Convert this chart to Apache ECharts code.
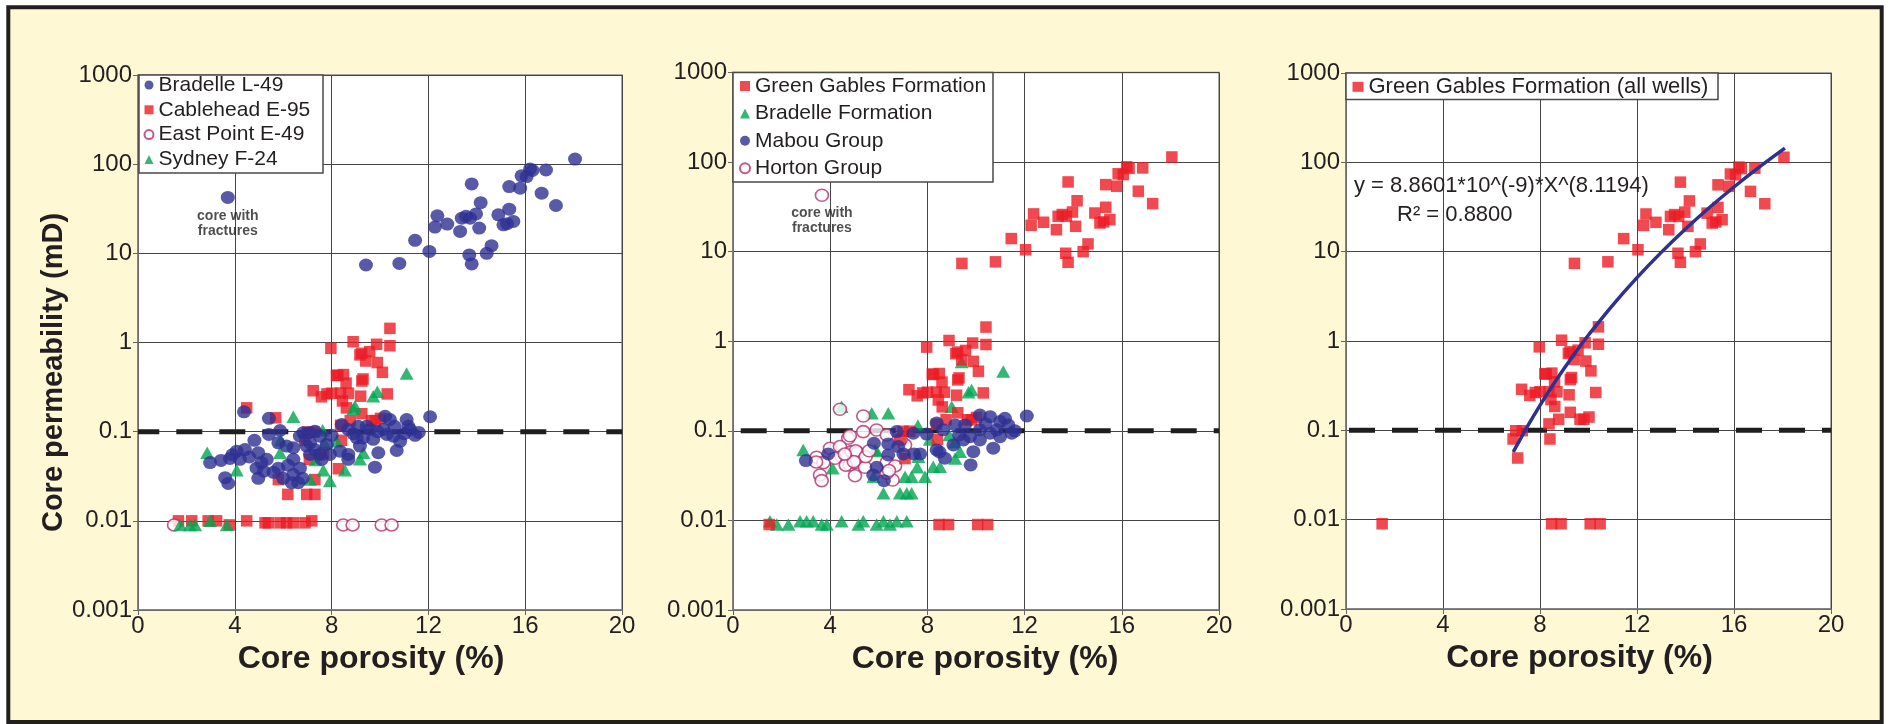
<!DOCTYPE html>
<html><head><meta charset="utf-8">
<script src="https://cdn.jsdelivr.net/npm/echarts@6/dist/echarts.min.js"></script>
<style>html,body{margin:0;padding:0;background:#fff}#c{width:1891px;height:724px}</style>
</head><body><div id="c"></div>
<script>
// ---------------- DATA ----------------
const xAxisMin = 0, xAxisMax = 20, xAxisStep = 4;
const yTickLabels = ['0.001', '0.01', '0.1', '1', '10', '100', '1000'];
const thresholdPerm = 0.1;
const xTitle = 'Core porosity (%)';
const yTitle = 'Core permeability (mD)';
const fractureNote = 'core with\nfractures';

// Green Gables points, high permeability (Bradelle L-49 well)
const ggHigh = [[9.42,7.4],[10.8,7.7],[11.45,14],[12.04,10.5],[12.27,19.7],[12.37,26.4],[12.78,21.3],[13.31,17.6],[13.38,24.8],[13.72,24.8],[13.55,26],[13.79,60],[13.97,27.7],[14.1,19.2],[14.16,37],[13.69,9.6],[13.79,7.6],[14.41,10],[14.61,12.2],[14.89,27],[15.1,20.9],[15.25,21.5],[15.34,31.3],[15.51,22.8],[15.34,56],[15.79,53.8],[15.85,74],[16.06,72.6],[16.2,88.5],[16.3,85],[16.68,47.3],[16.86,86],[17.27,34.4],[18.06,114]];
// Green Gables points, 0.04 - 1.5 mD (Cablehead E-95 well)
const ggMid = [[6.89,0.08],[7.0,0.099],[7.27,0.099],[7.08,0.049],[7.24,0.288],[7.58,0.246],[7.81,0.265],[7.97,0.86],[8.0,0.27],[8.26,0.426],[8.49,0.437],[8.37,0.271],[8.45,0.221],[8.61,0.185],[8.37,0.118],[8.41,0.08],[8.77,0.133],[8.89,1.02],[9.17,0.726],[9.25,0.37],[9.2,0.25],[9.25,0.159],[9.41,0.62],[9.57,0.79],[9.65,0.133],[10.02,0.141],[9.81,0.133],[9.86,0.955],[9.89,0.596],[10.1,0.463],[10.3,0.265],[10.41,1.44],[10.41,0.92],[9.24,0.757],[8.6,0.35],[9.3,0.39],[8.7,0.27],[8.2,0.43]];
// Green Gables points at detection limit (East Point E-49 well)
const ggTrace = [[1.49,0.009],[8.48,0.009],[8.87,0.009],[10.07,0.009],[10.48,0.009]];

// Panel 1 - by well
const bradelleL49Low = [[4.38,0.167],[5.41,0.141],[5.87,0.103],[5.41,0.093],[4.81,0.08],[2.98,0.045],[3.43,0.0476],[3.8,0.05],[4.08,0.0605],[4.42,0.063],[4.21,0.049],[3.6,0.0305],[3.73,0.0263],[4.97,0.058],[5.32,0.049],[4.9,0.039],[4.97,0.03],[5.8,0.075],[6.14,0.069],[6.42,0.066],[5.8,0.039],[6.0,0.03],[6.35,0.0268],[6.62,0.0268],[6.42,0.033],[6.69,0.039],[6.42,0.049],[6.83,0.097],[7.04,0.097],[7.31,0.101],[7.11,0.075],[7.11,0.0556],[7.52,0.0556],[7.93,0.0556],[7.52,0.089],[8.0,0.091],[8.42,0.12],[8.69,0.106],[9.1,0.115],[9.45,0.115],[8.35,0.0605],[8.69,0.0556],[8.69,0.049],[9.17,0.069],[9.72,0.082],[9.93,0.058],[9.79,0.04],[10.21,0.149],[10.41,0.137],[10.14,0.106],[10.55,0.089],[10.83,0.078],[10.69,0.0615],[11.1,0.137],[11.24,0.106],[11.45,0.091],[12.07,0.147],[11.17,0.115],[10.28,0.093],[9.59,0.106],[9.04,0.085],[6.69,0.089],[6.97,0.069],[7.59,0.049],[3.9,0.055],[4.6,0.052],[5.1,0.045],[5.6,0.035],[6.2,0.042],[7.3,0.063],[7.8,0.072],[8.9,0.095],[9.3,0.085],[9.9,0.1],[10.6,0.115],[11.0,0.095],[11.6,0.098],[5.2,0.036],[6.8,0.03]];
const bradelleFracturePt = [3.71, 42.4];
const cableheadOther = [[4.49,0.185],[5.69,0.143],[8.28,0.0384],[7.31,0.029],[6.19,0.0198],[6.97,0.0198],[7.31,0.0198],[7.66,0.058],[5.8,0.029],[7.5,0.055],[1.67,0.01],[2.22,0.01],[2.9,0.01],[3.25,0.01],[3.77,0.009],[4.49,0.01],[5.25,0.0095],[5.39,0.0095],[5.87,0.0095],[6.14,0.0095],[6.42,0.0095],[6.9,0.0095],[7.18,0.01]];
const sydneyF24 = [[2.86,0.058],[4.08,0.037],[6.42,0.147],[5.87,0.058],[7.63,0.104],[7.66,0.037],[7.93,0.028],[7.11,0.029],[8.55,0.037],[9.17,0.049],[9.31,0.058],[9.72,0.25],[9.89,0.28],[11.1,0.45],[8.97,0.193],[7.7,0.075],[7.34,0.048],[8.21,0.078],[8.9,0.18],[5.9,0.08],[1.74,0.009],[2.15,0.009],[2.36,0.009],[2.98,0.01],[3.67,0.009]];

// Panel 2 - by formation
const mabouGroup = [[3.0,0.0465],[3.92,0.0552],[5.8,0.0727],[6.39,0.0715],[6.39,0.0538],[5.91,0.0392],[5.77,0.0322],[6.21,0.0278],[6.74,0.098],[7.01,0.0552],[7.42,0.094],[7.45,0.0552],[7.7,0.0552],[7.97,0.092],[8.38,0.122],[8.38,0.0612],[8.65,0.1025],[8.72,0.0494],[9.07,0.0697],[9.14,0.1165],[9.55,0.1165],[9.75,0.086],[9.89,0.0586],[9.78,0.0416],[10.16,0.15],[10.58,0.144],[10.16,0.1025],[10.58,0.094],[10.71,0.064],[10.99,0.1268],[11.19,0.138],[11.33,0.1165],[11.47,0.094],[10.99,0.086],[12.09,0.1465],[9.48,0.079],[10.16,0.079],[10.85,0.1025],[6.8,0.0667],[8.5,0.058],[9.3,0.09],[10.4,0.12],[11.6,0.1]];
const hortonGroup = [[4.4,0.174],[5.36,0.1465],[5.36,0.098],[5.91,0.102],[4.74,0.0826],[3.99,0.064],[4.4,0.0667],[3.44,0.0507],[3.72,0.0442],[4.47,0.0515],[4.88,0.0586],[5.13,0.0571],[4.81,0.0416],[5.02,0.0442],[5.43,0.0392],[3.58,0.0322],[3.65,0.0278],[5.02,0.0316],[6.33,0.0447],[6.67,0.0406],[6.57,0.0283],[6.33,0.0337],[7.08,0.0697],[6.33,0.09],[4.2,0.0494],[4.81,0.088],[5.05,0.06],[5.46,0.0515],[4.64,0.0414],[4.97,0.0455],[6.42,0.036],[3.42,0.045],[4.6,0.055],[5.6,0.06],[6.9,0.08]];
const hortonFracturePt = [3.66, 42.6];
const bradelleFormation = [[2.89,0.061],[4.47,0.186],[5.71,0.157],[6.39,0.157],[4.1,0.0383],[5.91,0.0597],[6.19,0.0201],[6.87,0.0201],[7.15,0.0201],[7.35,0.0201],[7.08,0.0308],[7.35,0.0308],[7.9,0.0308],[7.58,0.0393],[8.24,0.0398],[8.52,0.0398],[7.63,0.0515],[9.14,0.049],[9.34,0.0586],[9.82,0.286],[9.0,0.186],[5.78,0.0307],[7.61,0.115],[9.12,0.0745],[9.41,0.586],[9.69,0.27],[11.12,0.46],[5.83,0.061],[8.1,0.08],[8.9,0.09],[1.52,0.0098],[1.8,0.009],[2.28,0.009],[2.76,0.0098],[3.03,0.0098],[3.3,0.0098],[3.65,0.009],[3.86,0.009],[4.47,0.0098],[5.16,0.009],[5.36,0.0098],[5.91,0.009],[6.19,0.0098],[6.46,0.009],[6.74,0.0098],[7.15,0.0098]];

// Panel 3 - power-law trend line as drawn on the chart
const trendX = [6.9, 7, 7.5, 8, 8.5, 9, 9.5, 10, 11, 12, 13, 14, 15, 16, 17, 18.1];
const trendY = [0.0573, 0.0644, 0.1128, 0.1905, 0.3117, 0.4958, 0.769, 1.166, 2.528, 5.125, 9.816, 17.92, 31.38, 52.97, 86.68, 144.2];
const trendEquation = 'y = 8.8601*10^(-9)*X^(8.1194)';
const trendR2 = 'R\u00B2 = 0.8800';

// ---------------- CHART ----------------
const FONT = "'Liberation Sans', Arial, Helvetica, sans-serif";
const INK = '#231f20';
const RED = '#ec1c24', BLUE = '#2e3192', GREEN = '#00a651', PINK = '#b4306e';

const gridBoxes = [
  {left: 138, top: 75, width: 484, height: 535},
  {left: 733, top: 72.5, width: 486, height: 537.5},
  {left: 1346, top: 73, width: 485, height: 536}
];
const grid = gridBoxes.map(g => Object.assign({show: true, backgroundColor: '#ffffff', borderColor: '#8c8c8c', borderWidth: 1.5}, g));

const titlePadX = [[0, 18, 0, 0], [0, 0, 0, 18], [0, 18, 0, 0]];
const xAxis = gridBoxes.map((g, i) => ({
  type: 'value', gridIndex: i, min: xAxisMin, max: xAxisMax, interval: xAxisStep,
  axisLine: {show: true, onZero: false, lineStyle: {color: '#7a7a7a', width: 1.5}},
  axisTick: {show: true, length: 5, lineStyle: {color: '#666'}},
  axisLabel: {fontSize: 24, color: INK, fontFamily: FONT, margin: 4},
  splitLine: {show: true, lineStyle: {color: '#454545', width: 1}},
  name: xTitle, nameLocation: 'middle', nameGap: 32,
  nameTextStyle: {fontSize: 32, fontWeight: 'bold', color: INK, fontFamily: FONT, padding: titlePadX[i]}
}));
const yAxis = gridBoxes.map((g, i) => Object.assign({
  type: 'log', logBase: 10, gridIndex: i, min: 0.001, max: 1000, splitNumber: 6,
  axisLine: {show: true, onZero: false, lineStyle: {color: '#7a7a7a', width: 1.5}},
  axisTick: {show: true, length: 5, lineStyle: {color: '#666'}},
  axisLabel: {fontSize: 24, color: INK, fontFamily: FONT, margin: 6,
    formatter: v => yTickLabels[Math.round(Math.log10(v)) + 3]},
  splitLine: {show: true, lineStyle: {color: '#454545', width: 1}}
}, i === 0 ? {
  name: yTitle, nameLocation: 'middle', nameGap: 67,
  nameTextStyle: {fontSize: 29, fontWeight: 'bold', color: INK, fontFamily: FONT, padding: [0, 60, 0, 0]}
} : {}));

const noteLabel = dist => ({show: true, position: 'bottom', distance: dist, formatter: fractureNote,
  fontSize: 14, fontWeight: 'bold', lineHeight: 15, color: INK, fontFamily: FONT, align: 'center'});

const dashOffsets = [4.7, 35.3, 40];
function threshold(i) {
  return {type: 'line', xAxisIndex: i, yAxisIndex: i, z: 1, silent: true,
    data: [[xAxisMin, thresholdPerm], [xAxisMax, thresholdPerm]], symbol: 'none',
    lineStyle: {color: '#1e1e1e', width: 5, type: [26, 17], dashOffset: dashOffsets[i], cap: 'butt'}};
}
function scatter(i, name, data, style, z) {
  return Object.assign({type: 'scatter', name, xAxisIndex: i, yAxisIndex: i, z, data, symbolKeepAspect: true}, style);
}
const sRed = {symbol: 'rect', symbolSize: 11.5, itemStyle: {color: RED}};
const sBlue = {symbol: 'circle', symbolSize: [14, 13], itemStyle: {color: BLUE}};
const sGreen = {symbol: 'triangle', symbolSize: [14, 12.5], itemStyle: {color: GREEN}};
const sPink = {symbol: 'circle', symbolSize: [13, 12], itemStyle: {color: '#ffffff', borderColor: PINK, borderWidth: 1.6}};

const greenGablesAll = ggHigh.concat(ggMid, ggTrace);

const series = [
  threshold(0),
  scatter(0, 'Cablehead E-95', ggMid.concat(cableheadOther), sRed, 2),
  scatter(0, 'East Point E-49', ggTrace, sPink, 3),
  scatter(0, 'Sydney F-24', sydneyF24, sGreen, 4),
  scatter(0, 'Bradelle L-49', ggHigh.concat(bradelleL49Low, [{value: bradelleFracturePt, label: noteLabel(5)}]), sBlue, 5),

  threshold(1),
  scatter(1, 'Bradelle Formation', bradelleFormation, sGreen, 2),
  scatter(1, 'Horton Group', hortonGroup.concat([{value: hortonFracturePt, label: noteLabel(4)}]), sPink, 3),
  scatter(1, 'Green Gables Formation', greenGablesAll, sRed, 4),
  scatter(1, 'Mabou Group', mabouGroup, sBlue, 5),

  threshold(2),
  scatter(2, 'Green Gables Formation (all wells)', greenGablesAll, sRed, 3),
  {type: 'line', name: 'Power trend', xAxisIndex: 2, yAxisIndex: 2, z: 6, silent: true,
   data: trendX.map((x, k) => [x, trendY[k]]), smooth: 0.4, showSymbol: false, symbol: 'none',
   lineStyle: {color: BLUE, width: 3.5}}
];

const legendText = size => ({fontSize: size, color: INK, fontFamily: FONT});
const legend = [
  {data: ['Bradelle L-49', 'Cablehead E-95', 'East Point E-49', 'Sydney F-24'], orient: 'vertical',
   left: 143.5, top: 72.6, padding: 0, itemGap: 0, itemWidth: 9, itemHeight: 9, selectedMode: false,
   textStyle: Object.assign(legendText(21), {lineHeight: 24.8})},
  {data: ['Green Gables Formation', 'Bradelle Formation', 'Mabou Group', 'Horton Group'], orient: 'vertical',
   left: 739, top: 72.3, padding: 0, itemGap: 0, itemWidth: 10, itemHeight: 10, selectedMode: false,
   textStyle: Object.assign(legendText(21), {lineHeight: 27.4})},
  {data: ['Green Gables Formation (all wells)'], orient: 'vertical',
   left: 1352.5, top: 73.3, padding: 0, itemGap: 0, itemWidth: 11, itemHeight: 10, selectedMode: false,
   textStyle: Object.assign(legendText(22), {lineHeight: 27})}
];

const legendBox = (x1, y1, x2, y2) => ({type: 'rect', z: 3, silent: true,
  shape: {x: x1, y: y1, width: x2 - x1, height: y2 - y1},
  style: {fill: '#ffffff', stroke: '#4a4a4a', lineWidth: 1.5}});

const graphic = {elements: [
  {type: 'rect', z: -1, silent: true, shape: {x: 8.3, y: 7.2, width: 1873.4, height: 714.8},
   style: {fill: '#fff8d5', stroke: INK, lineWidth: 4}},
  legendBox(139, 75, 323, 173),
  legendBox(733, 72.5, 993, 182),
  legendBox(1346, 73, 1718, 99.5),
  {type: 'text', z: 7, x: 1354, y: 186, silent: true,
   style: {text: trendEquation, fontSize: 22, fontFamily: FONT, fill: INK, align: 'left', verticalAlign: 'middle'}},
  {type: 'text', z: 7, x: 1397, y: 215, silent: true,
   style: {text: trendR2, fontSize: 22, fontFamily: FONT, fill: INK, align: 'left', verticalAlign: 'middle'}}
]};

const chart = echarts.init(document.getElementById('c'), null, {renderer: 'canvas'});
chart.setOption({animation: false, backgroundColor: '#ffffff', grid, xAxis, yAxis, legend, series, graphic});
</script></body></html>
